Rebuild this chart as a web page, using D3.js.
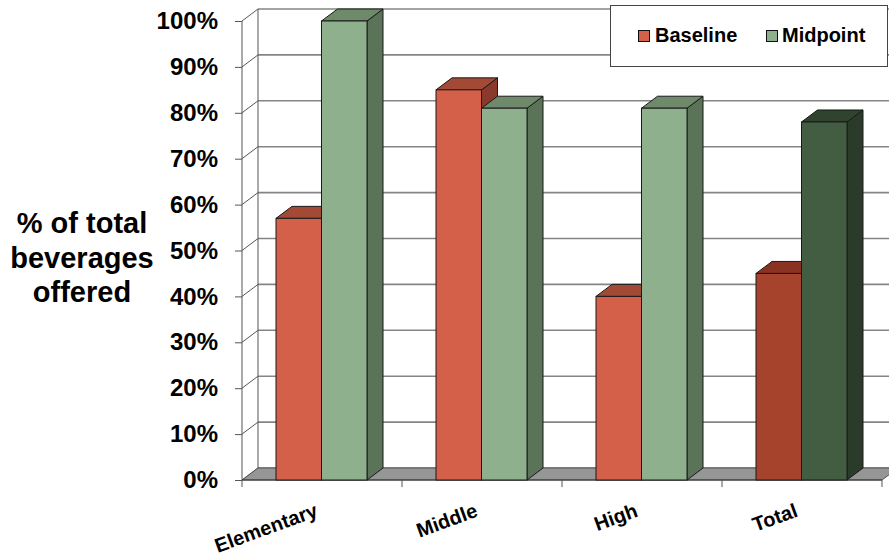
<!DOCTYPE html>
<html><head><meta charset="utf-8">
<script src="https://cdn.jsdelivr.net/npm/d3@7"></script>
<style>
html,body{margin:0;padding:0;background:#fff;}
svg{display:block;font-family:Arial,"Liberation Sans",sans-serif;}
</style></head>
<body>
<svg id="chart" width="889" height="557"></svg>
<script>
const categories = ["Elementary", "Middle", "High", "Total"];
const seriesNames = ["Baseline", "Midpoint"];
const baselineValues = [57, 85, 40, 45];
const midpointValues = [100, 81, 81, 78];
const yTicks = [0, 10, 20, 30, 40, 50, 60, 70, 80, 90, 100];
const titleLines = ["% of total", "beverages", "offered"];

const W = 889, H = 557;
const DX = 16, DY = 12;
const svg = d3.select("#chart");

const x = d3.scaleBand().domain(categories).range([242, 882]).padding(0);
const bw = x.bandwidth();
const xs = d3.scaleBand().domain(seriesNames).range([bw * 34 / 160, bw * 125 / 160]).padding(0);
const y = d3.scaleLinear().domain([0, 100]).range([480, 21]);

const x0 = x.range()[0], x1 = x.range()[1];
const y0 = y(0);

// colour sets: [front, top, side]
const colors = {
  Baseline: ["#d4604a", "#a34a37", "#8a3a2a"],
  Midpoint: ["#8fb08c", "#6e8a6b", "#5b7359"],
  BaselineTotal: ["#a6432c", "#8a3322", "#6e2a1c"],
  MidpointTotal: ["#435d42", "#2f432e", "#2b3b2a"]
};

// back wall gridlines
const grid = svg.append("g");
yTicks.forEach(t => {
  grid.append("line")
    .attr("x1", x0 + DX).attr("x2", W + 20)
    .attr("y1", y(t) - DY).attr("y2", y(t) - DY)
    .attr("stroke", "#858585").attr("stroke-width", 1.6);
  grid.append("line")
    .attr("x1", x0).attr("y1", y(t))
    .attr("x2", x0 + DX).attr("y2", y(t) - DY)
    .attr("stroke", "#555").attr("stroke-width", 1);
});
grid.append("line").attr("x1", x0 + DX).attr("x2", x0 + DX)
  .attr("y1", y(0) - DY).attr("y2", y(100) - DY)
  .attr("stroke", "#555").attr("stroke-width", 1);

// floor
svg.append("polygon")
  .attr("points", [[x0, y0], [x1, y0], [x1 + DX, y0 - DY], [x0 + DX, y0 - DY]].map(p => p.join(",")).join(" "))
  .attr("fill", "#969696").attr("stroke", "#555").attr("stroke-width", 1);

// front y axis line
svg.append("line").attr("x1", x0).attr("x2", x0).attr("y1", y(0)).attr("y2", y(100))
  .attr("stroke", "#555").attr("stroke-width", 1);

// y axis (ticks + labels)
const yAxis = d3.axisLeft(y).tickValues(yTicks).tickSize(7).tickPadding(17)
  .tickFormat(d => d + "%");
const yg = svg.append("g").attr("transform", `translate(${x0},0)`).call(yAxis);
yg.select(".domain").remove();
yg.selectAll(".tick line").attr("stroke", "#555");
yg.selectAll(".tick text").attr("fill", "#000").style("font-size", "24px")
  .style("font-weight", "bold").style("font-family", "Arial, 'Liberation Sans', sans-serif");

// x axis line + ticks
svg.append("line").attr("x1", x0).attr("x2", x1).attr("y1", y0).attr("y2", y0)
  .attr("stroke", "#333").attr("stroke-width", 1.2);
const boundaries = categories.map(c => x(c)).concat([x1]);
boundaries.forEach(b => {
  svg.append("line").attr("x1", b).attr("x2", b).attr("y1", y0).attr("y2", y0 + 7)
    .attr("stroke", "#555").attr("stroke-width", 1);
});

// bars
const poly = (pts) => pts.map(p => p.join(",")).join(" ");
const barsG = svg.append("g");
categories.forEach((cat, i) => {
  const vals = { Baseline: baselineValues[i], Midpoint: midpointValues[i] };
  seriesNames.forEach(s => {
    const v = vals[s];
    const key = cat === "Total" ? s + "Total" : s;
    const [cf, ct, cs] = colors[key];
    const bx0 = x(cat) + xs(s), bx1 = bx0 + xs.bandwidth();
    const yt = y(v);
    const g = barsG.append("g");
    g.append("polygon").attr("points", poly([[bx1, yt], [bx1 + DX, yt - DY], [bx1 + DX, y0 - DY], [bx1, y0]]))
      .attr("fill", cs).attr("stroke", "#1a1a1a").attr("stroke-width", 1).attr("stroke-linejoin", "round");
    g.append("polygon").attr("points", poly([[bx0, yt], [bx0 + DX, yt - DY], [bx1 + DX, yt - DY], [bx1, yt]]))
      .attr("fill", ct).attr("stroke", "#1a1a1a").attr("stroke-width", 1).attr("stroke-linejoin", "round");
    g.append("rect").attr("x", bx0).attr("y", yt).attr("width", bx1 - bx0).attr("height", y0 - yt)
      .attr("fill", cf).attr("stroke", "#1a1a1a").attr("stroke-width", 1);
  });
});

// x labels
categories.forEach(cat => {
  const cx = x(cat) + bw / 2 - 3;
  svg.append("text").text(cat)
    .attr("transform", `translate(${cx},516) rotate(-20)`)
    .attr("text-anchor", "end")
    .style("font-size", "20px").style("font-weight", "bold").attr("fill", "#000");
});

// y title
const tt = svg.append("text").attr("text-anchor", "middle")
  .style("font-size", "29px").style("font-weight", "bold").attr("fill", "#000");
titleLines.forEach((l, i) => {
  tt.append("tspan").attr("x", 82).attr("y", 233 + i * 34.5).text(l);
});

// legend
const lg = svg.append("g");
lg.append("rect").attr("x", 610.5).attr("y", 5.5).attr("width", 277).attr("height", 61)
  .attr("fill", "#fff").attr("stroke", "#444").attr("stroke-width", 1);
const legendItems = [{ name: "Baseline", sx: 638, tx: 655 }, { name: "Midpoint", sx: 766, tx: 782 }];
legendItems.forEach(it => {
  lg.append("rect").attr("x", it.sx + 0.5).attr("y", 30.5).attr("width", 11).attr("height", 11)
    .attr("fill", colors[it.name][0]).attr("stroke", "#111").attr("stroke-width", 1);
  lg.append("text").attr("x", it.tx).attr("y", 42).text(it.name)
    .style("font-size", "20px").style("font-weight", "bold").attr("fill", "#000");
});
</script>
</body></html>
